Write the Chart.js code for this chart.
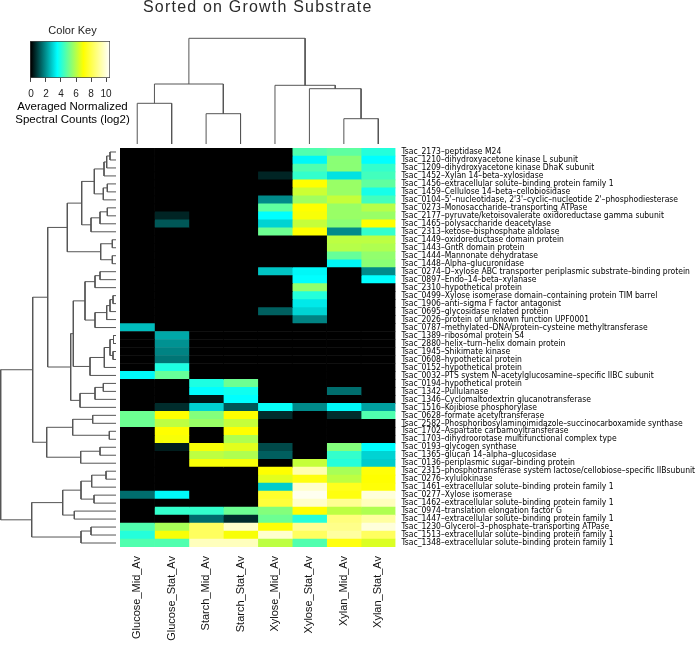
<!DOCTYPE html>
<html>
<head>
<meta charset="utf-8">
<script src="https://cdn.jsdelivr.net/npm/chart.js@4.4.0/dist/chart.umd.min.js"></script>
<style>
  html, body { margin: 0; padding: 0; background: #fff; }
  #wrap { position: relative; width: 696px; height: 647px; overflow: hidden; background: #fff; }
  .box { position: absolute; }
</style>
</head>
<body>
<div id="wrap">
  <div class="box" style="left:0;top:0;width:145px;height:135px"><canvas id="key"></canvas></div>
  <div class="box" style="left:110px;top:0;width:296px;height:146px"><canvas id="colTree"></canvas></div>
  <div class="box" style="left:0;top:140px;width:120px;height:416px"><canvas id="rowTree"></canvas></div>
  <div class="box" style="left:110px;top:140px;width:586px;height:507px"><canvas id="heat"></canvas></div>
</div>
<script>
// Column and row labels, in dendrogram order
const columnNames = ['Glucose_Mid_Av', 'Glucose_Stat_Av', 'Starch_Mid_Av', 'Starch_Stat_Av',
                     'Xylose_Mid_Av', 'Xylose_Stat_Av', 'Xylan_Mid_Av', 'Xylan_Stat_Av'];

const rowNames = [
    'Tsac_2173–peptidase M24',
    'Tsac_1210–dihydroxyacetone kinase L subunit',
    'Tsac_1209–dihydroxyacetone kinase DhaK subunit',
    'Tsac_1452–Xylan 14–beta–xylosidase',
    'Tsac_1456–extracellular solute–binding protein family 1',
    'Tsac_1459–Cellulose 14–beta–cellobiosidase',
    "Tsac_0104–5'–nucleotidase, 2'3'–cyclic–nucleotide 2'–phosphodiesterase",
    'Tsac_0273–Monosaccharide–transporting ATPase',
    'Tsac_2177–pyruvate/ketoisovalerate oxidoreductase gamma subunit',
    'Tsac_1465–polysaccharide deacetylase',
    'Tsac_2313–ketose–bisphosphate aldolase',
    'Tsac_1449–oxidoreductase domain protein',
    'Tsac_1443–GntR domain protein',
    'Tsac_1444–Mannonate dehydratase',
    'Tsac_1448–Alpha–glucuronidase',
    'Tsac_0274–D–xylose ABC transporter periplasmic substrate–binding protein',
    'Tsac_0897–Endo–14–beta–xylanase',
    'Tsac_2310–hypothetical protein',
    'Tsac_0499–Xylose isomerase domain–containing protein TIM barrel',
    'Tsac_1906–anti–sigma F factor antagonist',
    'Tsac_0695–glycosidase related protein',
    'Tsac_2026–protein of unknown function UPF0001',
    'Tsac_0787–methylated–DNA/protein–cysteine methyltransferase',
    'Tsac_1389–ribosomal protein S4',
    'Tsac_2880–helix–turn–helix domain protein',
    'Tsac_1945–Shikimate kinase',
    'Tsac_0608–hypothetical protein',
    'Tsac_0152–hypothetical protein',
    'Tsac_0032–PTS system N–acetylglucosamine–specific IIBC subunit',
    'Tsac_0194–hypothetical protein',
    'Tsac_1342–Pullulanase',
    'Tsac_1346–Cyclomaltodextrin glucanotransferase',
    'Tsac_1516–Kojibiose phosphorylase',
    'Tsac_0628–formate acetyltransferase',
    'Tsac_2582–Phosphoribosylaminoimidazole–succinocarboxamide synthase',
    'Tsac_1702–Aspartate carbamoyltransferase',
    'Tsac_1703–dihydroorotase multifunctional complex type',
    'Tsac_0193–glycogen synthase',
    'Tsac_1365–glucan 14–alpha–glucosidase',
    'Tsac_0136–periplasmic sugar–binding protein',
    'Tsac_2315–phosphotransferase system lactose/cellobiose–specific IIBsubunit',
    'Tsac_0276–xylulokinase',
    'Tsac_1461–extracellular solute–binding protein family 1',
    'Tsac_0277–Xylose isomerase',
    'Tsac_1462–extracellular solute–binding protein family 1',
    'Tsac_0974–translation elongation factor G',
    'Tsac_1447–extracellular solute–binding protein family 1',
    'Tsac_1230–Glycerol–3–phosphate–transporting ATPase',
    'Tsac_1513–extracellular solute–binding protein family 1',
    'Tsac_1348–extracellular solute–binding protein family 1'
];

// Averaged normalized spectral counts (log2), one array per column, rows in order above
const glucoseMid  = [0,0,0,0,0,0,0,0,0,0, 0,0,0,0,0,0,0,0,0,0, 0,0,2.6,0,0,0,0,0,3.4,0, 0,0,0,5.0,5.0,0,0,0,0,0, 0,0,0,1.5,0,0,0,4.6,4.0,4.6];
const glucoseStat = [0,0,0,0,0,0,0,0,0.5,1.2, 0,0,0,0,0,0,0,0,0,0, 0,0,0,2.3,2.0,1.8,1.6,3.9,4.9,0, 0,0,0.6,7.0,6.1,7.0,6.9,0.4,0,0, 0,0,0,3.4,0,4.2,0,5.8,6.9,4.6];
const starchMid   = [0,0,0,0,0,0,0,0,0,0, 0,0,0,0,0,0,0,0,0,0, 0,0,0,0,0,0,0,0,0,3.9, 3.5,0.3,2.9,5.3,5.6,0,0,6.9,6.1,6.9, 0,0,0,0,0,4.2,1.5,8.3,8.3,9.6];
const starchStat  = [0,0,0,0,0,0,0,0,0,0, 0,0,0,0,0,0,0,0,0,0, 0,0,0,0,0,0,0,0,0,5.0, 3.7,3.5,1.2,7.0,6.2,7.0,5.9,6.6,5.9,6.9, 0,0,0,0,0,5.0,0.6,9.8,6.9,9.6];
const xyloseMid   = [0,0,0,0.5,0,0,1.9,4.8,3.5,2.9, 5.0,0,0,0,0,2.7,0,0,0,0, 1.3,0,0,0,0,0,0,0,0,0, 0,0,3.6,0.6,0,0,0,1.0,1.3,0, 7.0,6.6,2.8,7.6,7.8,5.3,5.0,7.1,9.8,6.1];
const xyloseStat  = [4.6,3.4,4.6,4.2,7.0,6.3,5.7,7.0,6.9,6.2, 7.0,0,0,0,0,3.4,3.5,5.5,4.0,3.2, 2.9,1.8,0,0,0,0,0,0,0,0, 0,0,1.9,0,0,0,0,0,0,6.2, 9.4,7.2,9.8,10.3,9.8,7.0,4.0,9.0,8.3,4.6];
const xylanMid    = [4.8,5.4,5.4,3.1,5.6,5.6,6.2,5.6,5.6,5.4, 1.9,6.1,6.0,4.9,3.4,0,0,0,0,0, 0,0,0,0,0,0,0,0,0,0, 1.5,0,3.4,0.6,0,0,0,5.3,4.2,4.0, 5.8,6.1,7.4,7.2,9.0,6.1,8.7,8.9,9.2,7.2];
const xylanStat   = [4.0,3.5,4.2,4.4,4.8,3.8,4.4,6.0,5.6,7.0, 4.2,6.1,5.9,5.5,5.4,1.9,3.5,0,0,0, 0,0,0,0,0,0,0,0,0,0, 0,0,2.2,4.6,0,0,0,3.5,2.9,2.8, 7.1,7.0,7.1,10.0,9.6,5.9,9.2,10.0,8.3,6.5];

// Colour key: black -> cyan -> yellow -> white
const keyBreaks = [0, 3.5, 7, 10.5];
const keyColors = ['#000000', '#00ffff', '#ffff00', '#ffffff'];
const keyTicks = [0, 2, 4, 6, 8, 10];
const keyRange = [-0.13, 10.53];

// Dendrograms as hclust-style merges: [a, b, height], negative = leaf, positive = earlier merge
const colMerge = [
    [-1, -2, 40.7], [-3, -4, 30.3], [1, 2, 60], [-7, -8, 25.3],
    [-6, 4, 55.3], [-5, 5, 58.7], [3, 6, 105.7]
];
const rowMerge = [
    [-1, -2, 6], [1, -3, 9.3], [2, -4, 12], [-5, -6, 8.7], [4, -7, 12.7],
    [3, 5, 21.7], [-8, -9, 8.7], [7, -10, 16], [8, -11, 25], [6, 9, 34.3],
    [-12, -13, 3.7], [-14, -15, 3.7], [11, 12, 15.3], [10, 13, 48.7],
    [-16, -17, 16], [15, -18, 21], [-19, -20, 3], [17, -21, 6], [18, -22, 9.3],
    [19, -23, 21], [16, 20, 31], [-24, -25, 2.5], [-26, -27, 3], [22, 23, 6],
    [24, -28, 11.7], [25, -29, 26], [21, 26, 42.7], [-30, -31, 12.7], [28, -32, 21],
    [29, -33, 36], [27, 30, 45.3], [14, 31, 68.3], [-34, -35, 23.3], [-36, -37, 6.7],
    [33, 34, 43.3], [-38, -39, 16], [36, -40, 35.3], [35, 37, 69.3], [32, 38, 83.3],
    [-41, -42, 10], [40, -43, 24.3], [-44, -45, 22], [41, 42, 35], [-46, -47, 41.7],
    [43, 44, 53.3], [-48, -49, 25], [46, -50, 35], [45, 47, 84.3], [39, 48, 115.3]
];

const columnValues = [glucoseMid, glucoseStat, starchMid, starchStat, xyloseMid, xyloseStat, xylanMid, xylanStat];

const sansFont = "'Liberation Sans', Arial, sans-serif";
const narrowFont = "'Liberation Sans Narrow', 'DejaVu Sans Condensed', 'Liberation Sans', sans-serif";
const lineColor = '#555';

Chart.defaults.font.family = sansFont;
Chart.defaults.color = '#000';

function hexToRgb(hex) {
    return [1, 3, 5].map(i => parseInt(hex.slice(i, i + 2), 16));
}

// Map a value onto the colour key
function valueColor(v) {
    let i = 1;
    while (i < keyBreaks.length - 1 && v > keyBreaks[i]) i++;
    const t = Math.min(1, Math.max(0, (v - keyBreaks[i - 1]) / (keyBreaks[i] - keyBreaks[i - 1])));
    const a = hexToRgb(keyColors[i - 1]);
    const b = hexToRgb(keyColors[i]);
    const c = a.map((x, k) => Math.round(x + (b[k] - x) * t));
    return `rgb(${c.join(',')})`;
}

// Turn merges into U-shaped segments; leaf i sits at position i, nodes at the midpoint of their children
function treeSegments(merge) {
    const pos = [];
    const hgt = [];
    const segs = [];
    merge.forEach(([a, b, h], k) => {
        const pa = a < 0 ? -a : pos[a - 1];
        const ha = a < 0 ? 0 : hgt[a - 1];
        const pb = b < 0 ? -b : pos[b - 1];
        const hb = b < 0 ? 0 : hgt[b - 1];
        pos[k] = (pa + pb) / 2;
        hgt[k] = h;
        segs.push([pa, ha], [pa, h], [pb, h], [pb, hb], null);
    });
    return segs;
}

// An axis that only reserves space
function spacer(position, width) {
    return {
        display: true,
        position,
        grid: { display: false, drawTicks: false },
        border: { display: false },
        ticks: { display: false },
        afterFit: s => { s.width = width; s.paddingTop = 0; s.paddingBottom = 0; }
    };
}

const noAxis = { display: false };
const baseOptions = {
    responsive: true,
    maintainAspectRatio: false,
    animation: false,
    events: [],
    plugins: { legend: { display: false }, tooltip: { enabled: false } }
};

// The title in the reference is set a little wider than the font alone
const titleSpacing = {
    id: 'titleSpacing',
    beforeDraw(chart) { chart.ctx.letterSpacing = '1.2px'; }
};

// Column dendrogram (with the main title)
new Chart(document.getElementById('colTree'), {
    type: 'scatter',
    data: {
        datasets: [{
            data: treeSegments(colMerge).map(s => s ? { x: s[0], y: s[1] } : { x: null, y: null }),
            showLine: true,
            spanGaps: false,
            pointRadius: 0,
            borderColor: lineColor,
            borderWidth: 1,
            clip: false
        }]
    },
    options: {
        ...baseOptions,
        layout: { padding: { left: 10, right: 10.5, top: 0, bottom: 2 } },
        plugins: {
            ...baseOptions.plugins,
            title: {
                display: true,
                text: 'Sorted on Growth Substrate',
                color: '#2a2a2a',
                font: { size: 16, weight: 'normal', lineHeight: 1 },
                padding: { top: 0, bottom: 22.3 }
            }
        },
        scales: {
            x: { ...noAxis, type: 'linear', min: 0.5, max: columnNames.length + 0.5 },
            y: { ...noAxis, type: 'linear', min: 0, max: colMerge[colMerge.length - 1][2] }
        }
    },
    plugins: [titleSpacing]
});

// Row dendrogram
new Chart(document.getElementById('rowTree'), {
    type: 'scatter',
    data: {
        datasets: [{
            data: treeSegments(rowMerge).map(s => s ? { x: s[1], y: s[0] } : { x: null, y: null }),
            showLine: true,
            spanGaps: false,
            pointRadius: 0,
            borderColor: lineColor,
            borderWidth: 1,
            clip: false
        }]
    },
    options: {
        ...baseOptions,
        layout: { padding: { left: 0.7, right: 4, top: 8, bottom: 9 } },
        scales: {
            x: { ...noAxis, type: 'linear', reverse: true, min: 0, max: rowMerge[rowMerge.length - 1][2] },
            y: { ...noAxis, type: 'linear', reverse: true, min: 0.5, max: rowNames.length + 0.5 }
        }
    }
});

// Heatmap: one floating bar per cell, one dataset per column
new Chart(document.getElementById('heat'), {
    type: 'bar',
    data: {
        labels: rowNames,
        datasets: columnValues.map((vals, j) => ({
            label: columnNames[j],
            data: rowNames.map(() => [j, j + 1]),
            backgroundColor: vals.map(valueColor),
            borderWidth: 0,
            barPercentage: 1,
            categoryPercentage: 1,
            grouped: false
        }))
    },
    options: {
        ...baseOptions,
        indexAxis: 'y',
        layout: { padding: { left: 10, top: 8, right: 0, bottom: 0 } },
        scales: {
            x: {
                type: 'linear',
                position: 'bottom',
                min: 0,
                max: columnNames.length,
                grid: { display: false, drawTicks: false },
                border: { display: false },
                afterBuildTicks: s => { s.ticks = columnNames.map((n, i) => ({ value: i + 0.5 })); },
                afterFit: s => { s.height = 100; s.paddingLeft = 0; s.paddingRight = 0; },
                ticks: {
                    autoSkip: false,
                    minRotation: 90,
                    maxRotation: 90,
                    padding: 9,
                    color: '#111',
                    font: { size: 11 },
                    callback: (v, i) => columnNames[i]
                }
            },
            y: {
                position: 'right',
                grid: { display: false, drawTicks: false },
                border: { display: false },
                afterFit: s => { s.width = 300.5; s.paddingTop = 0; s.paddingBottom = 0; },
                ticks: {
                    autoSkip: false,
                    padding: 6,
                    color: '#000',
                    font: { family: narrowFont, size: 8.5 }
                }
            }
        }
    }
});

// Colour key
new Chart(document.getElementById('key'), {
    type: 'bar',
    data: {
        labels: [''],
        datasets: [{
            data: [keyRange],
            backgroundColor: ctx => {
                const chart = ctx.chart;
                if (!chart.chartArea) return '#000';
                const xs = chart.scales.x;
                const g = chart.ctx.createLinearGradient(xs.getPixelForValue(keyRange[0]), 0, xs.getPixelForValue(keyRange[1]), 0);
                keyBreaks.forEach((b, i) => {
                    g.addColorStop((b - keyRange[0]) / (keyRange[1] - keyRange[0]), keyColors[i]);
                });
                return g;
            },
            borderColor: '#444',
            borderWidth: 1,
            borderSkipped: false,
            barPercentage: 1,
            categoryPercentage: 1
        }]
    },
    options: {
        ...baseOptions,
        indexAxis: 'y',
        layout: { padding: 0 },
        plugins: {
            ...baseOptions.plugins,
            title: {
                display: true,
                text: 'Color Key',
                color: '#222',
                font: { size: 11, weight: 'normal' },
                padding: { top: 24.4, bottom: 3.4 }
            },
            subtitle: {
                display: true,
                position: 'bottom',
                text: ['Averaged Normalized', 'Spectral Counts (log2)'],
                color: '#000',
                font: { size: 11.5, weight: 'normal', lineHeight: 1.15 },
                padding: { top: 0.2, bottom: 8.4 }
            }
        },
        scales: {
            x: {
                type: 'linear',
                position: 'bottom',
                min: keyRange[0],
                max: keyRange[1],
                grid: { display: true, drawOnChartArea: false, drawTicks: true, tickLength: 4, color: '#444' },
                border: { display: false },
                afterBuildTicks: s => { s.ticks = keyTicks.map(v => ({ value: v })); },
                afterFit: s => { s.height = 22; s.paddingLeft = 0; s.paddingRight = 0; },
                ticks: { padding: 6, color: '#222', font: { size: 10 }, minRotation: 0, maxRotation: 0, autoSkip: false }
            },
            y: spacer('left', 30),
            yRight: { ...spacer('right', 35), type: 'category', labels: [''] }
        }
    }
});
</script>
</body>
</html>
